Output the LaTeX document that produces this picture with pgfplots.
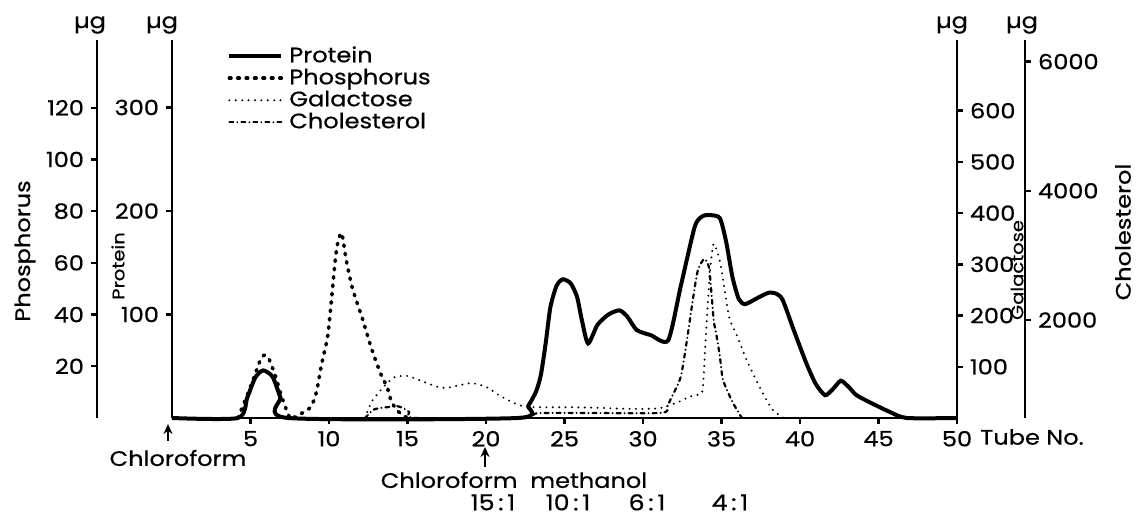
\documentclass[border=0pt]{standalone}
\usepackage{pgfplots}
\pgfplotsset{compat=1.18}
\usepackage{fontspec}
\setmainfont{Poppins}[FakeStretch=1.15, FakeBold=0.6]
\usetikzlibrary{arrows.meta}

% one px of the reference = 0.5bp; plot area 172..957 px wide, 40..418 px high
\pgfplotsset{
  base/.style={scale only axis, width=392.5bp, height=189bp, xmin=0, xmax=50,
    clip=false, anchor=south west,
    /pgf/number format/assume math mode=true,
    /pgf/number format/1000 sep={},
    ticklabel style={font=\fontsize{10.5}{11}\selectfont},
    axis line style={line width=1.4bp},
    tick align=outside, major tick length=3bp,
    every tick/.style={line width=1.2bp, black}},
  protstyle/.style={line width=2bp, black, smooth, tension=0.4},
  phosstyle/.style={line width=1.8bp, black, dash pattern=on 0.8bp off 3.4bp, line cap=round, smooth, tension=0.4},
  galstyle/.style={line width=1.1bp, black, dash pattern=on 0bp off 3.2bp, line cap=round, smooth, tension=0.4},
  cholstyle/.style={line width=1.1bp, black, dash pattern=on 2bp off 2bp on 0bp off 2bp, line cap=round, smooth, tension=0.4},
}

\begin{document}
\begin{tikzpicture}
\path[use as bounding box] (0,0) rectangle (568.5bp,257.5bp);

% protein (main axis)
\begin{axis}[base, at={(86bp,48.5bp)}, ymin=0, ymax=365.2,
  axis x line*=bottom, axis y line*=left,
  xtick={5,10,...,50}, ytick={100,200,300},
  legend cell align=left,
  legend image code/.code={\draw[#1] (0bp,0bp) -- (26bp,0bp);},
  legend style={at={(rel axis cs:0.07,0.987)}, anchor=north west, draw=none, fill=none,
    inner sep=0pt, row sep=0pt, column sep=2bp,
    font=\fontsize{10.5}{11}\selectfont,
    nodes={inner sep=1pt, text height=7.5bp, text depth=1.5bp}},
]
\addplot[protstyle] coordinates {
  (0,0) (4.2,0) (4.8,20) (5.3,39) (5.8,46) (6.4,40) (6.9,20) (7.4,0) (22,0)
  (22.7,12) (23.2,26) (23.5,42) (23.8,72) (24.1,107) (24.5,128) (24.9,134)
  (25.4,130) (25.8,117)
  (26.1,95) (26.5,72) (27.1,90) (27.8,100) (28.5,104) (29.0,98) (29.6,85)
  (30.5,80) (31.6,75) (32.4,127) (33.3,185) (33.8,195) (34.3,196) (34.9,193)
  (35.3,170) (35.7,136) (36.1,115) (36.5,110) (37.3,116) (38.0,121) (38.5,120)
  (38.9,114) (39.6,85) (40.4,53) (41.0,33) (41.6,22) (42.1,28) (42.6,36)
  (43.1,30) (43.6,22) (44.6,14) (45.7,6) (46.8,0) (50,0)
};
\addlegendentry{Protein}
\addlegendimage{phosstyle}
\addlegendentry{Phosphorus}
\addlegendimage{galstyle}
\addlegendentry{Galactose}
\addlegendimage{cholstyle}
\addlegendentry{Cholesterol}
\end{axis}

% phosphorus data
\begin{axis}[base, at={(86bp,48.5bp)}, ymin=0, ymax=146.2, hide axis]
\addplot[phosstyle] coordinates {
  (4.2,0) (4.8,9) (5.3,17) (5.6,22) (5.9,24.4) (6.2,22.5) (6.6,16) (7.0,8)
  (7.5,0) (7.7,0) (8.8,4) (9.2,10) (9.5,20) (9.9,31) (10.1,42) (10.3,55)
  (10.5,66) (10.8,71.6) (11.1,61) (11.5,50) (12.1,39) (12.7,27) (13.3,17)
  (13.7,12) (14.0,6) (14.5,2) (15.0,0)
};
\end{axis}

% phosphorus axis line
\begin{axis}[base, at={(48.5bp,48.5bp)}, width=1bp, xmin=0, xmax=1,
  ymin=0, ymax=146.2, axis x line=none, axis y line*=left,
  ytick={20,40,...,120}]
\end{axis}

% galactose (right axis on the plot box)
\begin{axis}[base, at={(86bp,48.5bp)}, ymin=0, ymax=738,
  axis x line=none, axis y line*=right, ytick={100,200,...,600}]
\addplot[galstyle] coordinates {
  (12.3,0) (12.7,31) (13.2,51) (13.7,68) (14.2,80) (15.0,82) (15.9,72)
  (16.9,61) (17.5,59) (18.3,64) (19.1,68) (20.0,61) (20.8,45) (21.8,29)
  (22.4,23) (23.4,21) (25,21) (27,20) (29,18) (31,19) (32.4,33) (32.9,41)
  (33.4,45) (33.8,55) (34.0,160) (34.25,280) (34.5,340) (34.9,305)
  (35.2,250) (35.5,195) (36.0,160) (36.6,113) (37.5,56) (38.2,18) (38.8,3) (39,0)
};
\end{axis}

% cholesterol data
\begin{axis}[base, at={(86bp,48.5bp)}, ymin=483, ymax=6334, hide axis]
\addplot[cholstyle] coordinates {
  (12.3,483) (12.8,607) (13.3,638) (13.8,653) (14.3,669) (14.7,638)
  (15.1,576) (15.5,483) (22.5,483) (23.5,560) (31.0,560) (31.5,650)
  (31.8,793) (32.4,1118) (32.8,1690) (33.2,2356) (33.5,2774) (33.9,2944)
  (34.2,2820) (34.35,2450) (34.5,2000) (34.7,1737) (34.9,1427) (35.1,1071)
  (35.7,731) (36.3,483)
};
\end{axis}

% cholesterol axis line
\begin{axis}[base, at={(511.5bp,48.5bp)}, width=1bp, xmin=0, xmax=1,
  ymin=483, ymax=6334, axis x line=none, axis y line*=right,
  ytick={2000,4000,6000}, scaled y ticks=false]
\end{axis}

% annotations
\begin{scope}[font=\fontsize{10.5}{11}\selectfont]
\node at (45bp,245bp) {µg};
\node at (81bp,245bp) {µg};
\node at (476bp,245bp) {µg};
\node at (511bp,245bp) {µg};
\node[rotate=90] at (12.5bp,132bp) {Phosphorus};
\node[rotate=90] at (561.5bp,141.5bp) {Cholesterol};
\node[rotate=90, font=\fontsize{8.5}{9}\selectfont] at (59bp,124.5bp) {Protein};
\node[rotate=90, font=\fontsize{8.5}{9}\selectfont] at (508.5bp,122.5bp) {Galactose};
\node at (516bp,39bp) {Tube No.};
\draw[line width=1.2bp, -{Stealth[length=5bp,width=4.5bp]}] (84bp,37bp) -- (84bp,45.5bp);
\draw[line width=1.2bp, -{Stealth[length=5bp,width=4.5bp]}] (242.5bp,24bp) -- (242.5bp,34bp);
\node at (89bp,28.5bp) {Chloroform};
\node at (257bp,17.5bp) {Chloroform\ \ methanol};
\begin{scope}[font=\fontsize{11}{12}\selectfont]
\node[inner sep=0pt] at (246.5bp,6.3bp) {15\,:\,1};
\node[inner sep=0pt] at (284bp,6.3bp) {10\,:\,1};
\node[inner sep=0pt] at (323.5bp,6.3bp) {6\,:\,1};
\node[inner sep=0pt] at (365bp,6.3bp) {4\,:\,1};
\end{scope}
\end{scope}
\end{tikzpicture}
\end{document}
